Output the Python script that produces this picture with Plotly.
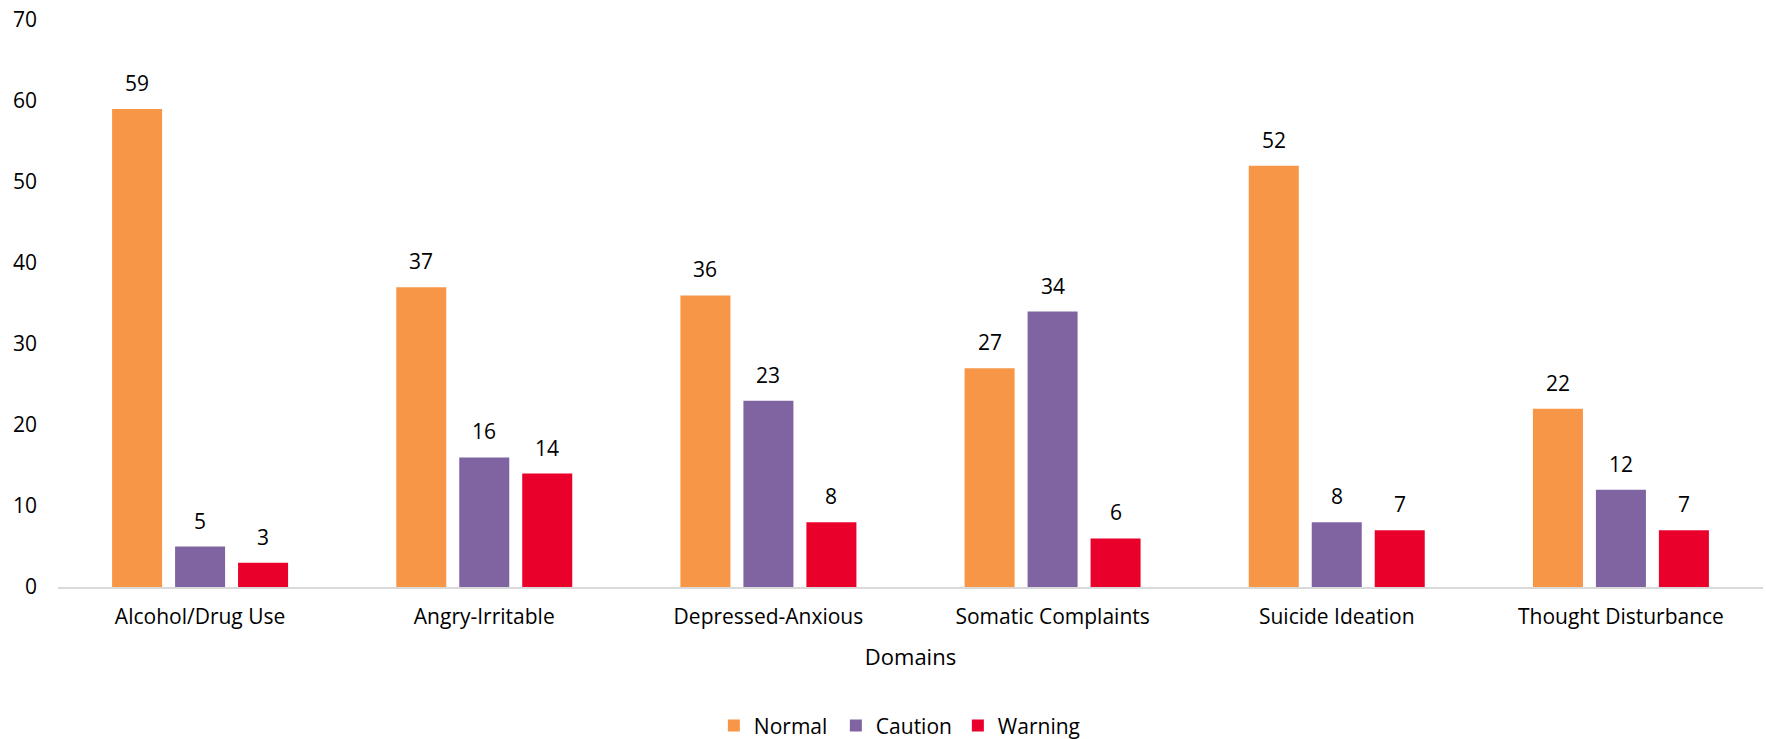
import plotly.graph_objects as go

categories = ["Alcohol/Drug Use", "Angry-Irritable", "Depressed-Anxious",
              "Somatic Complaints", "Suicide Ideation", "Thought Disturbance"]
normal = [59, 37, 36, 27, 52, 22]
caution = [5, 16, 23, 34, 8, 12]
warning = [3, 14, 8, 6, 7, 7]
series = [("Normal", normal, "#F79646"),
          ("Caution", caution, "#8064A2"),
          ("Warning", warning, "#E9002B")]
y_ticks = [0, 10, 20, 30, 40, 50, 60, 70]

FONT = "Open Sans"
SLOT_PX = 63  # pixel distance between bars within a group
fig = go.Figure()
for i, (name, vals, col) in enumerate(series):
    fig.add_trace(go.Bar(
        name=name, x=categories, y=vals, marker_color=col,
        marker_line_width=0,
    ))
    for c, v in zip(categories, vals):
        fig.add_annotation(
            x=c, y=v, xref="x", yref="y", text=str(v), showarrow=False,
            xshift=(i - 1) * SLOT_PX, yshift=26, yanchor="middle",
            font=dict(family=FONT, size=21, color="#000000"),
        )

W, H = 1766, 739
fig.update_layout(
    width=W, height=H,
    margin=dict(l=58, r=3, t=20, b=152, autoexpand=False),
    paper_bgcolor="white", plot_bgcolor="white",
    barmode="group", bargap=0.335, bargroupgap=0.206,
    font=dict(family=FONT, size=21, color="#000000"),
    showlegend=True,
    legend=dict(orientation="h", x=0.492, xanchor="center", y=-0.245, yanchor="middle",
                font=dict(family=FONT, size=21), traceorder="normal",
                entrywidth=77, entrywidthmode="pixels"),
)
fig.update_xaxes(
    automargin=False,
    showline=True, linecolor="#D9D9D9", linewidth=2,
    showgrid=False, ticks="", ticklabelstandoff=10,
    tickfont=dict(family=FONT, size=21),
    title=dict(text="Domains", font=dict(family=FONT, size=22), standoff=20),
)
fig.update_yaxes(
    automargin=False,
    range=[0, 70], tickvals=y_ticks, showgrid=False, zeroline=False,
    showline=False, ticks="", ticklabelstandoff=20,
    tickfont=dict(family=FONT, size=21),
)
fig.write_html("out.html")
